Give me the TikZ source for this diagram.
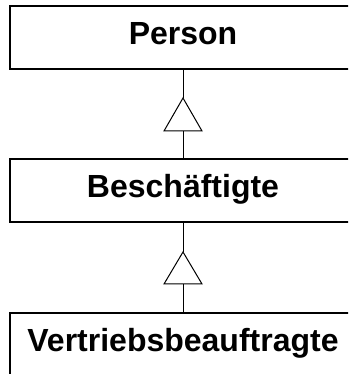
\documentclass[tikz,border=0pt]{standalone}
\usepackage{fontspec}
\setmainfont{Liberation Sans}
\begin{document}
\begin{tikzpicture}[x=1pt,y=1pt,
  classbox/.style={draw, line width=1.3pt, rectangle, inner sep=0pt,
    minimum width=346pt, text height=39pt, text depth=24pt,
    font=\fontsize{32}{36}\selectfont\bfseries},
  conn/.style={line width=1pt},
  gentri/.style={line width=1pt, fill=white, line join=miter}]
\clip (0,0) rectangle (348,374);
\useasboundingbox (0,0) rectangle (348,374);
\fill[white] (0,0) rectangle (348,374);
\node[classbox] (person) at (183,336.5) {Person};
\node[classbox] (besch) at (183,183.5) {Beschäftigte};
\node[classbox] (vert) at (183,29.5) {Vertriebsbeauftragte};
% generalisation 1
\coordinate (a1) at (183,276);
\coordinate (m1) at (183,243);
\coordinate (l1) at (164,243);
\coordinate (r1) at (202,243);
\draw[conn] (person.south) -- (a1);
\draw[conn] (m1) -- (besch.north);
\draw[gentri] (a1) -- (r1) -- (l1) -- cycle;
% generalisation 2
\coordinate (a2) at (183,122);
\coordinate (m2) at (183,90);
\coordinate (l2) at (164,90);
\coordinate (r2) at (202,90);
\draw[conn] (besch.south) -- (a2);
\draw[conn] (m2) -- (vert.north);
\draw[gentri] (a2) -- (r2) -- (l2) -- cycle;
\end{tikzpicture}
\end{document}
